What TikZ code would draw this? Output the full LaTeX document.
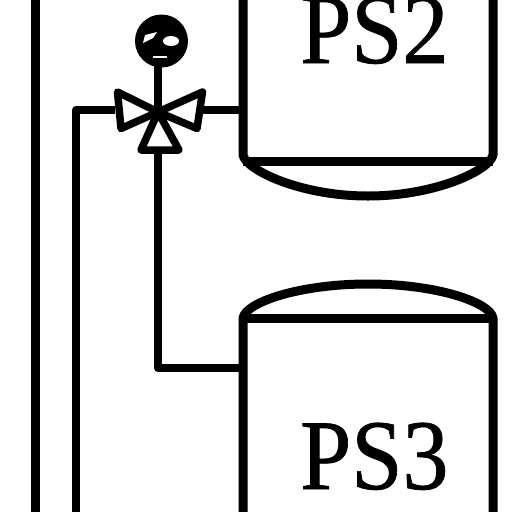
\documentclass[tikz,border=0pt]{standalone}
\usepackage{fontspec}
\setmainfont[FakeBold=0.7,FakeStretch=0.92]{Liberation Serif}
\tikzset{
  pipe/.style={line width=9pt,line join=round,line cap=round},
  thin pipe/.style={line width=8pt,line join=round},
  tanklabel/.style={inner sep=0pt,font=\fontsize{100}{100}\selectfont,anchor=base west},
  valvebody/.style={line width=7.5pt,line join=round,fill=white}
}
\begin{document}
\begin{tikzpicture}[x=1pt,y=-1pt]
\useasboundingbox (0,0) rectangle (512,512);
\begin{scope}
\clip (0,0) rectangle (512,512);
% outer line
\draw[pipe] (35.5,-10) -- (35.5,522);
% left pipe
\coordinate (vc) at (158,112);
\coordinate (leftend) at (76,522);
\coordinate (leftcorner) at (76,110);
\draw[thin pipe] (leftend) -- (leftcorner) -- (115,110);
\draw[thin pipe] (200,110) -- (243,110);
% lower pipe
\coordinate (lowcorner) at (158,368);
\draw[thin pipe] (vc) -- (lowcorner) -- (243,368);
% tank PS2
\draw[pipe] (243,-10) -- (243,155) .. controls (246,170) and (300,196) .. (368,196) .. controls (436,196) and (490,170) .. (493,155) -- (493,-10);
\draw[line width=9pt] (243,161.5) -- (493,161.5);
% tank PS3
\draw[pipe] (243,522) -- (243,318) .. controls (246,302) and (300,284) .. (368,284) .. controls (436,284) and (490,302) .. (493,318) -- (493,522);
\draw[line width=9pt] (243,318) -- (493,318);
% labels
\node[tanklabel] (ps2) at (300,63) {PS2};
\node[tanklabel] (ps3) at (300,489) {PS3};
% actuator
\draw[thin pipe] (158,60) -- (vc);
\node[circle,fill=black,minimum size=53pt,inner sep=0pt] (act) at (161.5,41) {};
\fill[white] (143,43) -- (145,35) -- (157,32) -- (153,38) -- cycle;
\fill[white] (171,41) ellipse (8pt and 5pt);
\fill[white] (153,56) rectangle (167,57.5);
% valve
\draw[valvebody] (vc) -- (117.5,92) -- (121,128.5) -- cycle;
\draw[valvebody] (vc) -- (202.5,92) -- (197,128.5) -- cycle;
\draw[valvebody] (vc) -- (141,150) -- (179,150) -- cycle;
\end{scope}
\end{tikzpicture}
\end{document}
